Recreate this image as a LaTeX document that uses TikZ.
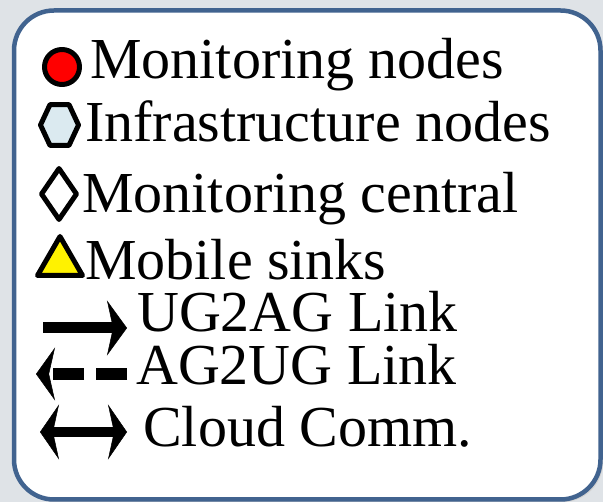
\documentclass[tikz,border=0pt]{standalone}
\usepackage{fontspec}
\setmainfont{Liberation Serif}
\newfontfamily\legendfont{Liberation Serif}
\usetikzlibrary{arrows.meta}
\usetikzlibrary{shapes.geometric}

\definecolor{boxblue}{RGB}{65,99,143}
\definecolor{bggray}{RGB}{223,227,231}
\definecolor{infrablue}{RGB}{219,234,240}

\begin{document}
\begin{tikzpicture}[x=1pt, y=-1pt, font=\legendfont\fontsize{58pt}{62pt}\selectfont]
			\tikzstyle{legmark} = [draw, line width=5pt, inner sep=0pt, line join=round]
			\tikzstyle{monnode} = [legmark, circle, fill=red, minimum size=35pt]
			\tikzstyle{infranode} = [legmark, regular polygon, regular polygon sides=6, fill=infrablue, minimum size=38pt, yscale=1.24]
			\tikzstyle{central} = [legmark, diamond, fill=white, minimum width=37pt, minimum height=53pt]
			\tikzstyle{sink} = [legmark, regular polygon, regular polygon sides=3, fill=yellow, minimum size=52pt]
			\tikzstyle{legtext} = [anchor=base west, inner sep=0pt]
			\tikzstyle{legline} = [line width=11pt]

			% background and frame
			\useasboundingbox (0,0) rectangle (603,502);
			\fill[bggray] (0,0) rectangle (603,502);
			\fill[gray!35, rounded corners=40pt] (17,13) rectangle (603,502);
			\draw[boxblue, fill=white, line width=4.5pt, rounded corners=40pt] (14,10.5) rectangle (600.5,499.5);

			% markers
			\path
			node[monnode] (mon) at (62,67) {}
			node[infranode] (infra) at (59.5,125) {}
			node[central] (cen) at (59,194) {}
			node[sink] (sink) at (60,262.5) {}

			node[legtext] (tmon) at (90,79) {Monitoring nodes}
			node[legtext] (tinfra) at (85,142) {Infrastructure nodes}
			node[legtext] (tcen) at (82,213) {Monitoring central}
			node[legtext] (tsink) at (85,280) {Mobile sinks}
			node[legtext] (tug) at (137,332) {UG2AG Link}
			node[legtext] (tag) at (136,385) {AG2UG Link}
			node[legtext] (tcl) at (143,447) {Cloud Comm.}
			;

			% links
			\coordinate (ug-a) at (43,328);
			\coordinate (ug-b) at (127,328);
			\coordinate (ag-a) at (127,374);
			\coordinate (ag-b) at (36,374);
			\coordinate (cl-a) at (40,432);
			\coordinate (cl-b) at (127,432);

			\draw[legline, -{Stealth[length=20pt, width=55pt, inset=6pt, line width=0.5pt]}] (ug-a) -- (ug-b);
			\draw[legline, line width=12pt, dash pattern=on 31pt off 12pt, -{Stealth[length=19pt, width=53pt, inset=6pt, line width=0.5pt]}] (ag-a) -- (ag-b);
			\draw[legline, line width=10pt, {Stealth[length=19pt, width=55pt, inset=6pt, line width=0.5pt]}-{Stealth[length=19pt, width=55pt, inset=6pt, line width=0.5pt]}] (cl-a) -- (cl-b);

			\end{tikzpicture}
\end{document}
